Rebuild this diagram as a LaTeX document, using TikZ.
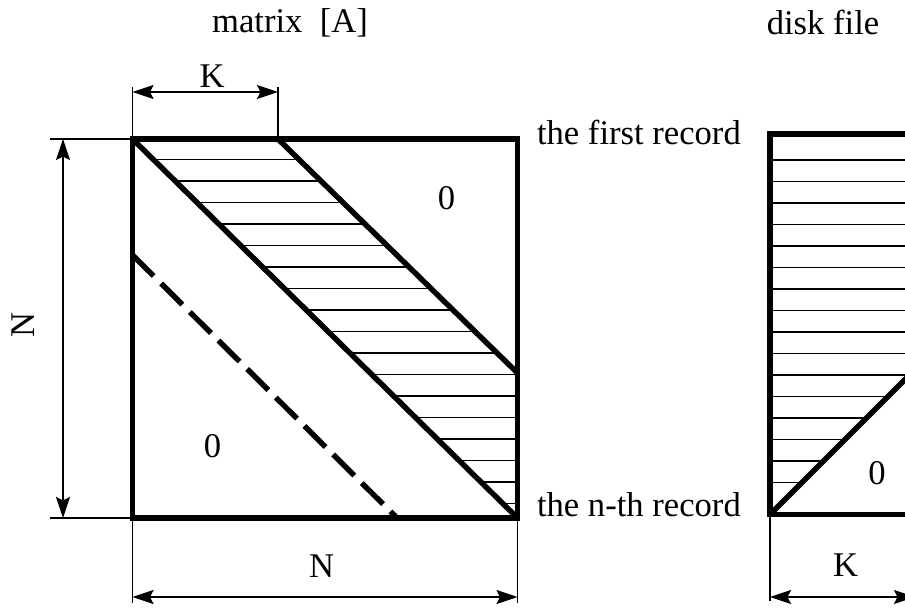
\documentclass[tikz,border=0pt]{standalone}
\usepackage{fontspec}
\setmainfont{Liberation Serif}
\usetikzlibrary{arrows.meta}

\begin{document}
\begin{tikzpicture}[>={Stealth[length=12pt,width=8pt,inset=2pt]},
  font=\fontsize{19.7}{23}\selectfont,
  edge/.style={line width=3.1pt},
  dim/.style={line width=0.7pt},
  hatch/.style={line width=0.6pt}]
\useasboundingbox (0,0) rectangle (18.1,12.16);
\clip (0,0) rectangle (18.1,12.16);
% matrix [A]
\coordinate (tl) at (2.65,9.38);
\coordinate (tr) at (10.35,9.38);
\coordinate (br) at (10.35,1.80);
\coordinate (bl) at (2.65,1.80);
\coordinate (kt) at (5.56,9.38);
\coordinate (kr) at (10.35,4.70);
\coordinate (ds) at (2.65,7.06);
\coordinate (de) at (7.94,1.80);
\begin{scope}
\clip (tl)--(kt)--(kr)--(br)--cycle;
\foreach \k in {0,...,16}
  \draw[hatch] (2.6,{8.97-0.43*\k})--(10.4,{8.97-0.43*\k});
\end{scope}
\draw[edge] (tl) rectangle (br);
\draw[edge] (tl)--(br) (kt)--(kr);
\draw[edge,dash pattern=on 17pt off 6pt] (ds)--(de);
\coordinate (ka) at (2.65,10.32);
\coordinate (kb) at (5.56,10.32);
\draw[dim] (tl)--(2.65,10.42) (kt)--(5.56,10.42);
\draw[dim,<->] (ka)--(kb);
\coordinate (na) at (1.26,9.38);
\coordinate (nb) at (1.26,1.80);
\draw[dim] (tl)--(1.0,9.38) (bl)--(1.0,1.80);
\draw[dim,<->] (na)--(nb);
\coordinate (nc) at (2.65,0.22);
\coordinate (nd) at (10.35,0.22);
\draw[dim] (bl)--(2.65,0.10) (br)--(10.35,0.10);
\draw[dim,<->] (nc)--(nd);
\node (ktop) at (4.24,10.64) {K};
\node[rotate=90] (nleft) at (0.47,5.66) {N};
\node (nbot) at (6.43,0.84) {N};
\node (zup) at (8.93,8.19) {0};
\node (zlow) at (4.25,3.23) {0};
\node[anchor=base] (mat) at (5.80,11.50) {matrix\ \ [A]};
% disk file
\coordinate (ftl) at (15.40,9.48);
\coordinate (fbl) at (15.40,1.87);
\begin{scope}
\clip (ftl)--(19,9.48)--(19,5.47)--(fbl)--cycle;
\foreach \k in {0,...,15}
  \draw[hatch] (15.3,{8.96-0.43*\k})--(19,{8.96-0.43*\k});
\end{scope}
\draw[edge] (19,9.48)--(ftl)--(fbl)--(19,1.87);
\draw[edge] (fbl)--(19,5.47);
\coordinate (fa) at (15.40,0.22);
\coordinate (fb) at (18.3,0.22);
\draw[dim] (fbl)--(15.40,0.14);
\draw[dim,<->] (fa)--(fb);
\node[anchor=base] (dsk) at (16.46,11.46) {disk file};
\node[anchor=base east] (first) at (14.94,9.26) {the first record};
\node[anchor=base east] (nth) at (14.94,1.82) {the n-th record};
\node (kdisk) at (16.91,0.86) {K};
\node (zdisk) at (17.54,2.70) {0};
\end{tikzpicture}
\end{document}
